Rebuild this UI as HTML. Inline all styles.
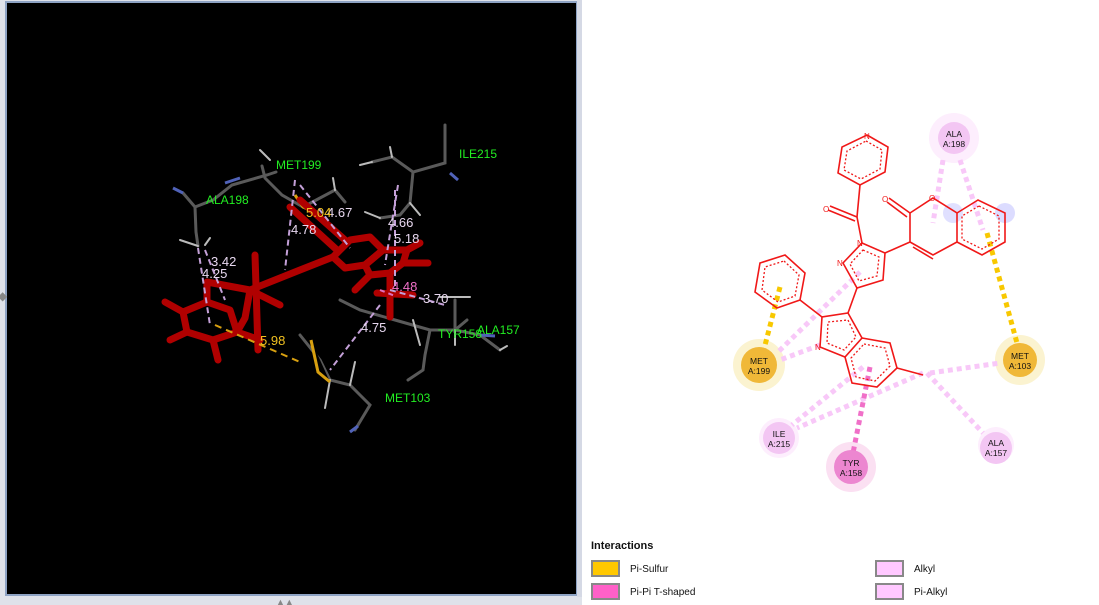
<!DOCTYPE html>
<html><head><meta charset="utf-8"><style>
html,body{margin:0;padding:0;background:#fff;}
body{width:1099px;height:605px;position:relative;overflow:hidden;font-family:"Liberation Sans",sans-serif;}
</style></head><body>
<svg width="1099" height="605" style="position:absolute;left:0;top:0">
<rect x="0" y="0" width="582" height="605" fill="#dfe2ea"/>
<rect x="6" y="2" width="571" height="593" fill="#000" stroke="#8ea3c4" stroke-width="2"/>
<rect x="577" y="0" width="5" height="605" fill="#d5d9e5"/>
<rect x="0" y="597" width="582" height="8" fill="#dfe2ea"/>
<text x="-2" y="300" font-size="12" fill="#888">◆</text>
<text x="276" y="605" font-size="9" fill="#888">▲▲</text>
<!-- gray residues -->
<g stroke="#5a5a5a" stroke-width="3" fill="none" stroke-linecap="round">
<polyline points="183,193 195,207 196,232 198,246"/>
<polyline points="195,207 213,200 232,185 267,175 276,172"/>
<polyline points="262,166 265,178 282,195 303,207"/>
<polyline points="303,207 335,190 345,202"/>
<polyline points="445,125 445,163 413,172 410,203 400,215 380,218"/>
<polyline points="413,172 392,157 372,162"/>
<polyline points="340,300 360,310 395,320 430,330 455,330 480,335 500,350"/>
<polyline points="430,330 425,355 423,370 408,380"/>
<polyline points="300,335 320,360 330,380 350,385 360,395 370,405 355,430"/>
<polyline points="455,300 455,330 467,320"/>
</g>
<g stroke="#bbb" stroke-width="2" stroke-linecap="round">
<line x1="180" y1="240" x2="198" y2="246"/><line x1="205" y1="245" x2="210" y2="238"/>
<line x1="260" y1="150" x2="270" y2="160"/><line x1="335" y1="190" x2="333" y2="178"/>
<line x1="372" y1="162" x2="360" y2="165"/><line x1="392" y1="157" x2="390" y2="147"/>
<line x1="380" y1="218" x2="365" y2="212"/><line x1="410" y1="203" x2="420" y2="215"/>
<line x1="440" y1="297" x2="470" y2="297"/><line x1="455" y1="330" x2="455" y2="345"/>
<line x1="330" y1="380" x2="325" y2="408"/><line x1="350" y1="385" x2="355" y2="362"/>
<line x1="500" y1="350" x2="507" y2="346"/><line x1="413" y1="320" x2="420" y2="345"/>
</g>
<g stroke="#5062b8" stroke-width="3"><line x1="173" y1="188" x2="183" y2="193"/><line x1="225" y1="183" x2="240" y2="178"/><line x1="450" y1="173" x2="458" y2="180"/><line x1="350" y1="432" x2="358" y2="426"/><line x1="480" y1="335" x2="495" y2="336"/></g>
<g stroke="#d8a010" stroke-width="3"><polyline points="295,195 303,207 320,215"/><polyline points="311,340 318,372 330,382"/></g>
<!-- red ligand -->
<g stroke="#b00000" stroke-width="7" fill="none" stroke-linecap="round" stroke-linejoin="round">
<polygon points="183,312 207,302 230,310 237,332 213,340 187,332"/>
<polyline points="207,302 207,282 250,290 300,270 333,257"/>
<polyline points="250,290 245,318 237,332"/>
<line x1="183" y1="312" x2="165" y2="302"/><line x1="187" y1="332" x2="170" y2="340"/><line x1="213" y1="340" x2="218" y2="360"/><line x1="237" y1="332" x2="260" y2="340"/>
<line x1="255" y1="255" x2="258" y2="350"/><line x1="250" y1="290" x2="280" y2="305"/>
<polygon points="333,257 350,240 370,237 383,250 365,265 345,268"/>
<polygon points="365,265 383,250 407,250 403,263 390,273 370,275"/>
<line x1="290" y1="207" x2="337" y2="250"/><line x1="300" y1="200" x2="345" y2="240"/>
<line x1="403" y1="263" x2="428" y2="263"/><line x1="407" y1="250" x2="420" y2="243"/><line x1="370" y1="275" x2="355" y2="290"/>
<line x1="390" y1="273" x2="390" y2="317"/><line x1="377" y1="293" x2="413" y2="295"/>
</g>
<g stroke="#c4a0d8" stroke-width="2" stroke-dasharray="6,4" fill="none">
<line x1="198" y1="248" x2="210" y2="325"/><line x1="205" y1="250" x2="225" y2="300"/>
<line x1="295" y1="180" x2="285" y2="270"/><line x1="300" y1="185" x2="350" y2="248"/>
<line x1="398" y1="185" x2="385" y2="265"/><line x1="395" y1="190" x2="395" y2="290"/>
<line x1="390" y1="290" x2="445" y2="305"/><line x1="380" y1="305" x2="330" y2="370"/>
</g>
<line x1="215" y1="325" x2="300" y2="362" stroke="#d8a010" stroke-width="2" stroke-dasharray="7,5"/>
<line x1="380" y1="290" x2="395" y2="296" stroke="#e070c0" stroke-width="2" stroke-dasharray="5,4"/>
<g font-size="13" fill="#e8d8f0">
<text x="211" y="266">3.42</text><text x="202" y="278">4.25</text><text x="327" y="217">4.67</text>
<text x="291" y="234">4.78</text><text x="388" y="227">4.66</text><text x="394" y="243">5.18</text>
<text x="423" y="303">3.70</text><text x="361" y="332">4.75</text></g>
<text x="306" y="217" font-size="13" fill="#f0c020">5.04</text>
<text x="260" y="345" font-size="13" fill="#f0c020">5.98</text>
<text x="392" y="291" font-size="13" fill="#f070c8">4.48</text>
<g font-size="12" fill="#22ee22">
<text x="276" y="169">MET199</text><text x="459" y="158">ILE215</text><text x="206" y="204">ALA198</text>
<text x="385" y="402">MET103</text><text x="438" y="338">TYR158</text><text x="477" y="334">ALA157</text></g>

<!-- right 2D diagram -->
<g fill="#fdeefd"><circle cx="954" cy="138" r="25"/><circle cx="779" cy="438" r="20"/><circle cx="996" cy="445" r="18"/><circle cx="953" cy="213" r="10" fill="#e0e0ff"/><circle cx="1005" cy="213" r="10" fill="#dcdcff"/></g>
<circle cx="759" cy="365" r="26" fill="#fbf3d0"/><circle cx="1020" cy="360" r="25" fill="#fbf3d0"/>
<circle cx="851" cy="467" r="25" fill="#fbe0f2"/>
<g stroke-width="5" stroke-dasharray="5,4" fill="none">
<line x1="943" y1="160" x2="933" y2="223" stroke="#f8c8f8"/>
<line x1="960" y1="160" x2="983" y2="230" stroke="#f8c8f8"/>
<line x1="860" y1="272" x2="777" y2="353" stroke="#f8c8f8"/>
<line x1="820" y1="345" x2="780" y2="360" stroke="#f8c8f8"/>
<line x1="930" y1="373" x2="1000" y2="363" stroke="#f8c8f8"/>
<line x1="927" y1="373" x2="983" y2="433" stroke="#f8c8f8"/>
<line x1="923" y1="373" x2="797" y2="428" stroke="#f8c8f8"/>
<line x1="863" y1="367" x2="792" y2="425" stroke="#f8c8f8"/>
<line x1="870" y1="367" x2="853" y2="453" stroke="#f070c8"/>
<line x1="987" y1="233" x2="1017" y2="343" stroke="#f8c800"/>
<line x1="780" y1="287" x2="763" y2="353" stroke="#f8c800"/>
</g>
<g stroke="#f01818" stroke-width="1.6" fill="none">
<polygon points="867,135 888,147 885,172 860,185 838,173 842,147"/>
<line x1="860" y1="185" x2="857" y2="217"/><line x1="857" y1="217" x2="830" y2="206"/><line x1="855" y1="221" x2="828" y2="210"/>
<line x1="857" y1="217" x2="862" y2="243"/>
<polygon points="862,243 885,253 883,280 857,288 843,263"/>
<line x1="885" y1="253" x2="910" y2="242"/>
<polyline points="910,242 910,213 933,198 957,213 957,242 933,255 910,242"/>
<line x1="913" y1="247" x2="933" y2="259"/>
<line x1="910" y1="213" x2="889" y2="198"/><line x1="907" y1="217" x2="887" y2="202"/>
<polyline points="957,213 978,200 1005,213 1005,242 982,255 957,242"/>
<line x1="857" y1="288" x2="848" y2="313"/>
<polygon points="848,313 862,338 845,357 820,347 822,317"/>
<polyline points="862,338 890,343 897,368 877,387 852,383 845,357"/>
<line x1="897" y1="368" x2="923" y2="375"/>
<line x1="822" y1="317" x2="800" y2="300"/>
<polygon points="785,255 805,273 800,300 777,308 755,292 760,263"/>
</g>
<g stroke="#f01818" stroke-width="1.3" fill="none" stroke-dasharray="2,2">
<polygon points="866,141 882,150 880,169 861,179 844,170 847,151"/>
<polygon points="863,250 879,257 877,276 859,281 850,264"/>
<polygon points="979,206 999,216 999,239 982,249 962,239 962,216"/>
<polygon points="848,320 856,337 844,350 827,343 828,322"/>
<polygon points="864,344 885,348 890,366 875,381 856,377 851,358"/>
<polygon points="784,261 799,275 795,296 778,302 762,290 765,267"/>
</g>
<g font-size="8" fill="#f01818"><text x="864" y="139">N</text><text x="823" y="212">O</text><text x="857" y="246">N</text><text x="837" y="266">N</text><text x="882" y="202">O</text><text x="929" y="201">O</text><text x="815" y="350">N</text></g>
<g font-size="8.5" fill="#111" text-anchor="middle">
<circle cx="954" cy="138" r="16" fill="#f3c6f3"/><text x="954" y="137">ALA</text><text x="954" y="147">A:198</text>
<circle cx="759" cy="365" r="18" fill="#f0b838"/><text x="759" y="364">MET</text><text x="759" y="374">A:199</text>
<circle cx="1020" cy="360" r="17" fill="#f0b838"/><text x="1020" y="359">MET</text><text x="1020" y="369">A:103</text>
<circle cx="779" cy="438" r="16" fill="#f3c6f3"/><text x="779" y="437">ILE</text><text x="779" y="447">A:215</text>
<circle cx="851" cy="467" r="17" fill="#ec86d0"/><text x="851" y="466">TYR</text><text x="851" y="476">A:158</text>
<circle cx="996" cy="448" r="16" fill="#f3c6f3"/><text x="996" y="446">ALA</text><text x="996" y="456">A:157</text>
</g>
<!-- legend -->
<text x="591" y="549" font-size="11" font-weight="bold" fill="#111">Interactions</text>
<rect x="592" y="561" width="27" height="15" fill="#ffc800" stroke="#888" stroke-width="2"/>
<rect x="592" y="584" width="27" height="15" fill="#ff60c8" stroke="#888" stroke-width="2"/>
<rect x="876" y="561" width="27" height="15" fill="#ffc8ff" stroke="#888" stroke-width="2"/>
<rect x="876" y="584" width="27" height="15" fill="#ffc8ff" stroke="#888" stroke-width="2"/>
<g font-size="10" fill="#111"><text x="630" y="572">Pi-Sulfur</text><text x="630" y="595">Pi-Pi T-shaped</text><text x="914" y="572">Alkyl</text><text x="914" y="595">Pi-Alkyl</text></g>
</svg>
</body></html>
